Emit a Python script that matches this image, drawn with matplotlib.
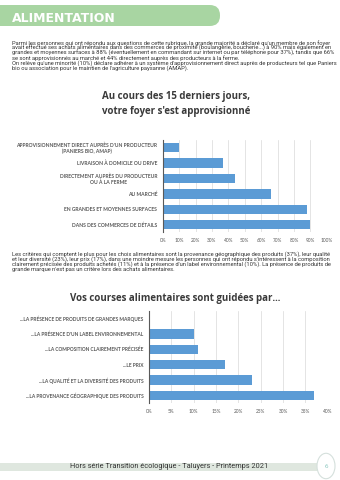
import matplotlib
matplotlib.use("Agg")
import matplotlib.pyplot as plt
from matplotlib.patches import FancyBboxPatch, Rectangle, Circle
import numpy as np

# données
src_labels = [
    "APPROVISIONNEMENT DIRECT AUPRÈS D'UN PRODUCTEUR\n(PANIERS BIO, AMAP)",
    "LIVRAISON À DOMICILE OU DRIVE",
    "DIRECTEMENT AUPRÈS DU PRODUCTEUR\nOU À LA FERME",
    "AU MARCHÉ",
    "EN GRANDES ET MOYENNES SURFACES",
    "DANS DES COMMERCES DE DÉTAILS",
]
src_values = [10, 37, 44, 66, 88, 90]
src_ticks = [0, 10, 20, 30, 40, 50, 60, 70, 80, 90, 100]

crit_labels = [
    "...LA PRÉSENCE DE PRODUITS DE GRANDES MARQUES",
    "...LA PRÉSENCE D'UN LABEL ENVIRONNEMENTAL",
    "...LA COMPOSITION CLAIREMENT PRÉCISÉE",
    "...LE PRIX",
    "...LA QUALITÉ ET LA DIVERSITÉ DES PRODUITS",
    "...LA PROVENANCE GÉOGRAPHIQUE DES PRODUITS",
]
crit_values = [0, 10, 11, 17, 23, 37]
crit_ticks = [0, 5, 10, 15, 20, 25, 30, 35, 40]

para1 = [
    "Parmi les personnes qui ont répondu aux questions de cette rubrique, la grande majorité a déclaré qu'un membre de son foyer",
    "avait effectué ses achats alimentaires dans des commerces de proximité (boulangerie, boucherie...) à 90% mais également en",
    "grandes et moyennes surfaces à 88% (éventuellement en commandant sur internet ou par téléphone pour 37%), tandis que 66%",
    "se sont approvisionnés au marché et 44% directement auprès des producteurs à la ferme.",
    "On relève qu'une minorité (10%) déclare adhérer à un système d'approvisionnement direct auprès de producteurs tel que Paniers",
    "bio ou association pour le maintien de l'agriculture paysanne (AMAP).",
]

para2 = [
    "Les critères qui comptent le plus pour les choix alimentaires sont la provenance géographique des produits (37%), leur qualité",
    "et leur diversité (23%), leur prix (17%), dans une moindre mesure les personnes qui ont répondu s'intéressent à la composition",
    "clairement précisée des produits achetés (11%) et à la présence d'un label environnemental (10%). La présence de produits de",
    "grande marque n'est pas un critère lors des achats alimentaires.",
]

BLUE = "#5b9bd5"
GREEN = "#a8d5a2"
TXT = "#333333"
LBL = "#595959"

W, H = 340, 480
fig = plt.figure(figsize=(3.4, 4.8), dpi=100)


def fx(x):
    return x / W


def fy(y):
    return 1 - y / H


# bandeau titre
banner = FancyBboxPatch((fx(-20), fy(26)), fx(240), 21 / H,
                        boxstyle="round,pad=0,rounding_size=0.03",
                        transform=fig.transFigure, fc=GREEN, ec="none",
                        mutation_aspect=W / H)
fig.patches.append(banner)
fig.text(fx(12), fy(22.5), "ALIMENTATION", color="white", size=9.0,
         weight="bold", family="DejaVu Sans", va="baseline", ha="left")

for i, line in enumerate(para1):
    fig.text(fx(12), fy(43 + 5 * i), line, size=4.15, family="Roboto", color=TXT,
             va="center", ha="left")

for i, line in enumerate(para2):
    fig.text(fx(12), fy(254 + 5 * i), line, size=4.15, family="Roboto", color=TXT,
             va="center", ha="left")


def bar_chart(ax, labels, values, ticks, xmax, lsize):
    y = np.arange(len(values))
    ax.barh(y, values, height=0.62, color=BLUE, zorder=2)
    ax.set_xlim(0, xmax)
    ax.set_ylim(len(values) - 0.5, -0.5)
    ax.set_xticks(ticks)
    ax.set_xticklabels([f"{t}%" for t in ticks])
    ax.set_yticks(y)
    ax.set_yticklabels(labels, weight="bold", family="Lato", multialignment="center",
                       size=lsize, linespacing=1.1)
    ax.grid(axis="x", color="#d9d9d9", lw=0.5, zorder=0)
    ax.set_axisbelow(True)
    for s in ["top", "right", "bottom"]:
        ax.spines[s].set_visible(False)
    ax.spines["left"].set_color(LBL)
    ax.spines["left"].set_linewidth(0.8)
    ax.tick_params(axis="both", length=0, colors=LBL)
    ax.tick_params(axis="x", pad=4, labelsize=3.4)
    ax.tick_params(axis="y", pad=4)
    for t in ax.get_xticklabels():
        t.set_family("Lato")


# graphique 1
fig.text(fx(176), fy(104), "Au cours des 15 derniers jours,\nvotre foyer s'est approvisionné",
         size=7.0, weight="bold", family="Open Sans", color="#3a3a3a",
         ha="center", va="center", linespacing=1.45)
ax1 = fig.add_axes([fx(162.7), fy(232.4), (326.7 - 162.7) / W, (232.4 - 140) / H])
bar_chart(ax1, src_labels, src_values, src_ticks, 100, 3.65)

# graphique 2
fig.text(fx(175), fy(298), "Vos courses alimentaires sont guidées par...",
         size=7.0, weight="bold", family="Open Sans", color="#3a3a3a",
         ha="center", va="center")
ax2 = fig.add_axes([fx(149), fy(403), (327.7 - 149) / W, (403 - 311) / H])
bar_chart(ax2, crit_labels, crit_values, crit_ticks, 40, 3.55)

# pied de page
fig.patches.append(Rectangle((0, fy(471)), fx(318), 8 / H, transform=fig.transFigure,
                             fc="#dfe7df", ec="none"))
fig.text(fx(169), fy(467), "Hors série Transition écologique - Taluyers - Printemps 2021",
         size=5.3, family="Roboto", color="#333333", ha="center", va="center")
fig.patches.append(Circle((fx(326), fy(466)), 9 / W, transform=fig.transFigure,
                          fc="white", ec="#d5e0dc", lw=0.8))
fig.text(fx(326), fy(466), "6", size=4.5, family="Roboto", color="#8cc8c0",
         ha="center", va="center")

fig.savefig("out.png", dpi=100, facecolor="white")
